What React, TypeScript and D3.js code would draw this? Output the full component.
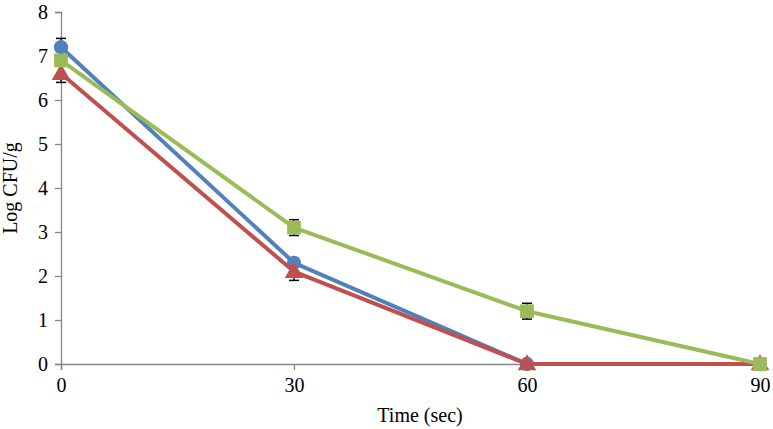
import React, { useEffect, useRef } from 'react';
import * as d3 from 'd3';

const times = [0, 30, 60, 90];
const yTicks = [0, 1, 2, 3, 4, 5, 6, 7, 8];

const seriesNames = ['Blue', 'Red', 'Green'];
const blueValues = [7.2, 2.3, 0, 0];
const redValues = [6.6, 2.1, 0, 0];
const greenValues = [6.9, 3.1, 1.2, 0];
const blueErrors = [0.2, 0.1, 0, 0];
const redErrors = [0.2, 0.2, 0, 0];
const greenErrors = [0.1, 0.18, 0.18, 0];

const colors = ['#4F81BD', '#C0504D', '#9BBB59'];

function App() {
    const ref = useRef<SVGSVGElement>(null);

    const width = 773;
    const height = 429;
    const margin = { top: 12, right: 13, bottom: 65, left: 61 };

    useEffect(() => {
        const svg = d3.select(ref.current);
        svg.selectAll('*').remove();

        const x = d3.scaleLinear().domain([0, 90]).range([margin.left, width - margin.right]);
        const y = d3.scaleLinear().domain([0, 8]).range([height - margin.bottom, margin.top]);

        const font = '"Liberation Serif", "Times New Roman", serif';
        const axisColor = '#868686';

        // y axis
        const yAxis = svg.append('g')
            .attr('transform', `translate(${margin.left},0)`)
            .call(d3.axisLeft(y).tickValues(yTicks).tickSize(6).tickPadding(7).tickFormat(d3.format('d')));
        yAxis.select('.domain').attr('stroke', axisColor).attr('stroke-width', 1.3);
        yAxis.selectAll('line').attr('stroke', axisColor).attr('stroke-width', 1.3);
        yAxis.selectAll('text').attr('font-family', font).attr('font-size', 20).attr('fill', '#000');

        // x axis
        const xAxis = svg.append('g')
            .attr('transform', `translate(0,${y(0)})`)
            .call(d3.axisBottom(x).tickValues(times).tickSize(6).tickPadding(8).tickFormat(d3.format('d')));
        xAxis.select('.domain').attr('stroke', axisColor).attr('stroke-width', 1.3);
        xAxis.selectAll('line').attr('stroke', axisColor).attr('stroke-width', 1.3);
        xAxis.selectAll('text').attr('font-family', font).attr('font-size', 20).attr('fill', '#000');

        svg.append('text')
            .attr('x', 420)
            .attr('y', 422)
            .attr('text-anchor', 'middle')
            .attr('font-family', font)
            .attr('font-size', 20)
            .text('Time (sec)');

        svg.append('text')
            .attr('transform', `translate(17,${(y(0) + y(8)) / 2}) rotate(-90)`)
            .attr('text-anchor', 'middle')
            .attr('font-family', font)
            .attr('font-size', 20)
            .text('Log CFU/g');

        const allValues = [blueValues, redValues, greenValues];
        const allErrors = [blueErrors, redErrors, greenErrors];

        // error bars
        allValues.forEach((vals, s) => {
            const g = svg.append('g');
            vals.forEach((v, i) => {
                const e = allErrors[s][i];
                if (!e) return;
                const cx = x(times[i]);
                g.append('line').attr('x1', cx).attr('x2', cx).attr('y1', y(v - e)).attr('y2', y(v + e))
                    .attr('stroke', '#000').attr('stroke-width', 1.3);
                [v - e, v + e].forEach((yy) => {
                    g.append('line').attr('x1', cx - 5).attr('x2', cx + 5).attr('y1', y(yy)).attr('y2', y(yy))
                        .attr('stroke', '#000').attr('stroke-width', 1.5);
                });
            });
        });

        const line = d3.line<number>()
            .x((_, i) => x(times[i]))
            .y((d) => y(d));

        const symbols = [d3.symbolCircle, d3.symbolTriangle, d3.symbolSquare];
        const sizes = [160, 150, 190];

        allValues.forEach((vals, s) => {
            const g = svg.append('g').attr('class', seriesNames[s]);
            g.append('path')
                .attr('d', line(vals))
                .attr('fill', 'none')
                .attr('stroke', colors[s])
                .attr('stroke-width', 4)
                .attr('stroke-linejoin', 'round');
            g.selectAll('path.m')
                .data(vals)
                .enter()
                .append('path')
                .attr('class', 'm')
                .attr('d', d3.symbol().type(symbols[s]).size(sizes[s]))
                .attr('transform', (d, i) => `translate(${x(times[i])},${y(d) + (s === 1 ? 1 : 0)})`)
                .attr('fill', colors[s]);
        });
    }, []);

    return (
        <svg ref={ref} width={width} height={height}
            style={{ position: 'absolute', left: 0, top: 0, background: '#fff' }} />
    );
}

export default App;
